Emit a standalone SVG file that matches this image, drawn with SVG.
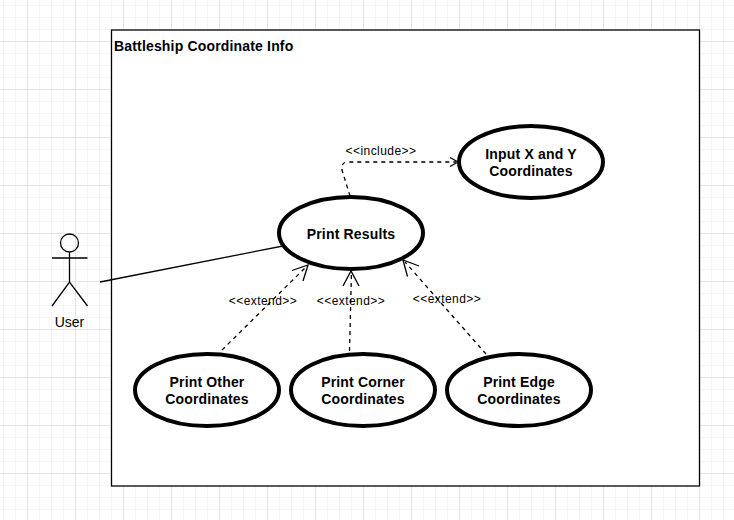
<svg xmlns="http://www.w3.org/2000/svg" width="734" height="520" viewBox="0 0 734 520">
<style>
text{font-family:"Liberation Sans",Arial,sans-serif;fill:#000;text-anchor:middle}
.uc{fill:#fff;stroke:#000;stroke-width:4}
.t{font-size:14px;font-weight:bold;letter-spacing:.17px}
.lab{font-size:12px;letter-spacing:.45px}
.dash{fill:none;stroke:#000;stroke-width:1.3;stroke-dasharray:4 4}
.head{fill:none;stroke:#000;stroke-width:1.3}
.actor{fill:none;stroke:#000;stroke-width:1.3}
</style>
<defs>
<pattern id="minor" width="12" height="12" patternUnits="userSpaceOnUse" x="3" y="5">
<path d="M.5 0V12M0 .5H12" fill="none" stroke="#f5f5f5" stroke-width="1"/>
</pattern>
<pattern id="major" width="48" height="48" patternUnits="userSpaceOnUse" x="27" y="41">
<path d="M.5 0V48M0 .5H48" fill="none" stroke="#e4e4e4" stroke-width="1"/>
</pattern>
</defs>
<rect width="734" height="520" fill="#fff"/>
<rect width="734" height="520" fill="url(#minor)"/>
<rect width="734" height="520" fill="url(#major)"/>
<g id="frame">
<rect x="111.5" y="30" width="588" height="456" fill="#fff" stroke="#000" stroke-width="1.3"/>
<text class="t" x="114" y="51" style="text-anchor:start">Battleship Coordinate Info</text>
</g>
<g id="connectors">
<path d="M100 282L283 246" fill="none" stroke="#000" stroke-width="1.3"/>
<path class="dash" d="M350 196L342 170Q341 162 348 162H456"/>
<path class="head" d="M450 157.500L458 162L450 166.500"/>
<path class="dash" d="M222 350L306 267"/>
<path class="head" d="M292 270.500L308 265L303 281"/>
<path class="dash" d="M349.500 351L351.500 271"/>
<path class="head" d="M343 286L351 271L359 286"/>
<path class="dash" d="M486 354L405 262"/>
<path class="head" d="M407.500 276.500L403 260L419 266"/>
<text class="lab" x="381" y="155">&lt;&lt;include&gt;&gt;</text>
<text class="lab" x="263" y="305">&lt;&lt;extend&gt;&gt;</text>
<text class="lab" x="351" y="305">&lt;&lt;extend&gt;&gt;</text>
<text class="lab" x="447" y="303">&lt;&lt;extend&gt;&gt;</text>
</g>
<g id="user">
<circle class="actor" cx="69.500" cy="243" r="9"/>
<path class="actor" d="M69.500 252V282M52 258H87.500M52 306L69.500 282L87.500 306"/>
<text x="69.500" y="327" font-size="14">User</text>
</g>
<g id="print-results">
<ellipse class="uc" cx="351" cy="233" rx="72" ry="36"/>
<text class="t" x="351" y="239">Print Results</text>
</g>
<g id="input">
<ellipse class="uc" cx="531" cy="162" rx="72" ry="36"/>
<text class="t" x="531" y="159">Input X and Y</text>
<text class="t" x="531" y="176">Coordinates</text>
</g>
<g id="print-other">
<ellipse class="uc" cx="207" cy="390" rx="72" ry="36"/>
<text class="t" x="207" y="387">Print Other</text>
<text class="t" x="207" y="404">Coordinates</text>
</g>
<g id="print-corner">
<ellipse class="uc" cx="363" cy="390" rx="72" ry="36"/>
<text class="t" x="363" y="387">Print Corner</text>
<text class="t" x="363" y="404">Coordinates</text>
</g>
<g id="print-edge">
<ellipse class="uc" cx="519" cy="390" rx="72" ry="36"/>
<text class="t" x="519" y="387">Print Edge</text>
<text class="t" x="519" y="404">Coordinates</text>
</g>
</svg>
